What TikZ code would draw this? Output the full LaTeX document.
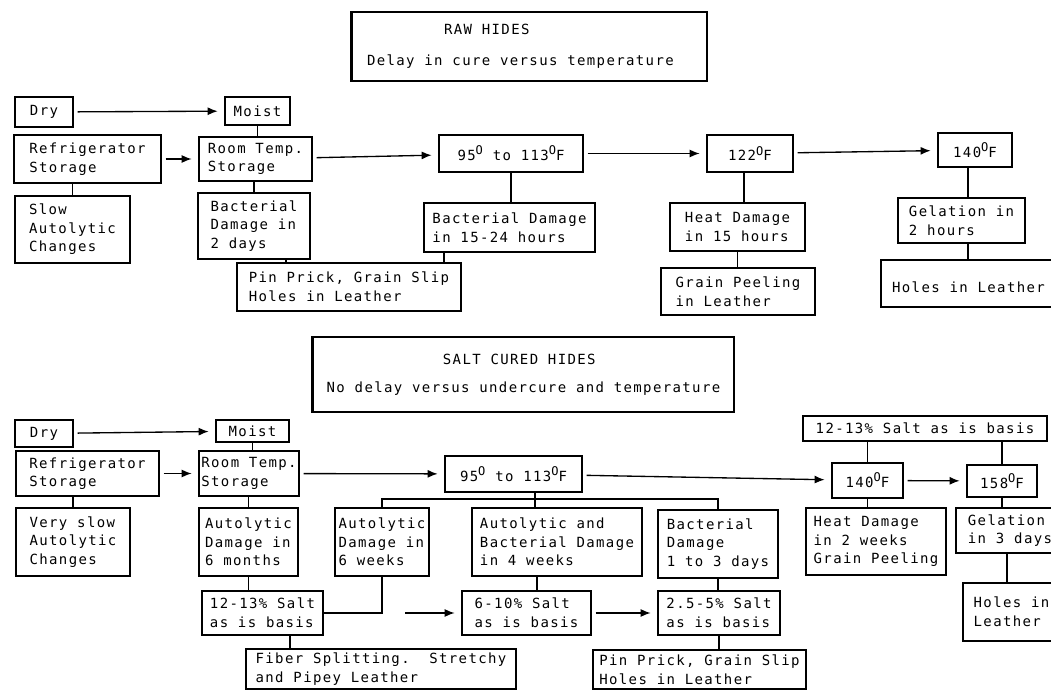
\documentclass[tikz,border=0pt]{standalone}
\usepackage{fontspec}
\usepackage{tikz}
\usetikzlibrary{arrows.meta}

\newfontfamily\gothic{DejaVu Sans Mono}[LetterSpace=9.8]
\newcommand{\degO}{\raisebox{0.75ex}{\fontsize{9}{9}\selectfont O}}

\tikzset{
  box/.style 2 args={draw, line width=1pt, inner sep=0pt, align=left,
    minimum width=#1, minimum height=#2,
    font=\gothic\fontsize{10.5}{13.9}\selectfont},
  link/.style={line width=1pt},
  arr/.style={line width=1pt, -{Latex[length=7.5pt,width=6pt]}, shorten <=3pt, shorten >=5pt}
}

\begin{document}
\begin{tikzpicture}[x=0.75pt,y=0.75pt,yscale=-1,xscale=1]
        \useasboundingbox (0,0) rectangle (1051,692);
        \clip (0,0) rectangle (1051,692);

        %Raw hides
        \node[box={266.25pt}{51.75pt}] (titleA) at (529.5,46.5) {\phantom{XXXXXXXX}RAW HIDES\\[9pt]Delay in cure versus temperature\phantom{XX}};
        \draw[line width=2pt] (titleA.north west) -- (titleA.south west);

        % Text Node
        \node[box={43.5pt}{22.5pt}] (dryA) at (44,112) {Dry};
        \node[box={48.75pt}{21pt}] (moistA) at (257.5,111) {Moist};
        \node[box={110.25pt}{36pt}] (fridgeA) at (87.5,159) {Refrigerator\\Storage};
        \node[box={84.75pt}{33pt}] (roomA) at (255.5,159) {Room Temp.\\Storage};
        \node[box={108pt}{27.75pt}] (tA) at (511,153.5) {95\degO{} to 113\degO F};
        \node[box={64.5pt}{27.75pt}] (tB) at (750,153.5) {122\degO F};
        \node[box={55.5pt}{25.5pt}] (tC) at (975,150) {140\degO F};
        \node[box={86.25pt}{50.25pt}] (slowA) at (72.5,229.5) {Slow\\Autolytic\\Changes};
        \node[box={84pt}{49.5pt}] (bacA) at (254,226) {Bacterial\\Damage in\\2 days};
        \node[box={128.25pt}{36.75pt}] (bacB) at (509.5,227.5) {Bacterial Damage\\in 15-24 hours};
        \node[box={101.25pt}{36pt}] (heatA) at (737.5,227) {Heat Damage\\in 15 hours};
        \node[box={95.25pt}{33.75pt}] (gelA) at (961.5,220.5) {Gelation in\\2 hours};
        \node[box={168pt}{36pt}] (pinA) at (349,287) {Pin Prick, Grain Slip\\Holes in Leather};
        \node[box={115.5pt}{35.25pt}] (peelA) at (738,291.5) {Grain Peeling\\in Leather};
        \node[box={131.25pt}{35.25pt}] (holesA) at (968.5,283.5) {~\\Holes in Leather};

        \draw[arr] (dryA) -- (moistA);
        \draw[arr] (fridgeA) -- (roomA);
        \draw[arr] (roomA) -- (tA);
        \draw[arr] (tA) -- (tB);
        \draw[arr] (tB) -- (tC);
        \draw[link] (moistA.south) -- (moistA.south |- roomA.north);
        \draw[link] (slowA.north |- fridgeA.south) -- (slowA.north);
        \draw[link] (bacA.north |- roomA.south) -- (bacA.north);
        \draw[link] (tA.south) -- (tA.south |- bacB.north);
        \draw[link] ([xshift=24pt]bacA.south) -- ([xshift=24pt]bacA.south |- pinA.north);
        \draw[link] ([xshift=-49.1pt]bacB.south) -- ([xshift=-49.1pt]bacB.south |- pinA.north);
        \draw[link] ([xshift=-4.5pt]tB.south) -- ([xshift=-4.5pt]tB.south |- heatA.north);
        \draw[link] (heatA.south) -- (heatA.south |- peelA.north);
        \draw[link] ([xshift=-5.25pt]tC.south) -- ([xshift=-5.25pt]tC.south |- gelA.north);
        \draw[link] ([xshift=4.9pt]gelA.south) -- ([xshift=4.9pt]gelA.south |- holesA.north);

        %Salt cured hides
        \node[box={315.75pt}{56.25pt}] (titleB) at (523.5,374.5) {\phantom{XXXXXXXXXXXX}SALT CURED HIDES\\[7pt]No delay versus undercure and temperature};
        \draw[line width=2pt] (titleB.north west) -- (titleB.south west);

        % Text Node
        \node[box={43.5pt}{20.25pt}] (dryB) at (44,433.5) {Dry};
        \node[box={54.75pt}{16.5pt}] (moistB) at (252.5,431) {Moist};
        \node[box={107.25pt}{33.75pt}] (fridgeB) at (87.5,473.5) {Refrigerator\\Storage};
        \node[box={75pt}{33.75pt}] (roomB) at (249,473.5) {Room Temp.\\Storage};
        \node[box={102.75pt}{27pt}] (sA) at (513.5,474) {95\degO{} to 113\degO F};
        \node[box={53.25pt}{26.25pt}] (sB) at (867.5,480.5) {140\degO F};
        \node[box={52.5pt}{24pt}] (sC) at (1002,481) {158\degO F};
        \node[box={183pt}{18.75pt}] (saltD) at (925,428.5) {12-13\% Salt as is basis};
        \node[box={85.5pt}{51pt}] (vslowB) at (73,542) {Very slow\\Autolytic\\Changes};
        \node[box={74.25pt}{51pt}] (autoA) at (248.5,542) {Autolytic\\Damage in\\6 months};
        \node[box={70.5pt}{51pt}] (autoB) at (382,542) {Autolytic\\Damage in\\6 weeks};
        \node[box={127.5pt}{51pt}] (autoC) at (557,542) {Autolytic and\\Bacterial Damage\\in 4 weeks};
        \node[box={90pt}{51pt}] (bacC) at (718,544) {Bacterial\\Damage\\1 to 3 days};
        \node[box={105pt}{50.25pt}] (heatB) at (876,541.5) {Heat Damage\\in 2 weeks\\Grain Peeling};
        \node[box={81pt}{33.75pt}] (gelB) at (1010,530.5) {Gelation\\in 3 days};
        \node[box={72.75pt}{43.5pt}] (holesB) at (1011.5,612) {Holes in\\Leather};
        \node[box={90.75pt}{33pt}] (saltA) at (262.5,613) {12-13\% Salt\\as is basis};
        \node[box={96.75pt}{33pt}] (saltB) at (526.5,613) {6-10\% Salt\\as is basis};
        \node[box={91.5pt}{33pt}] (saltC) at (719,613) {2.5-5\% Salt\\as is basis};
        \node[box={202.5pt}{30pt}] (fiber) at (381,669) {Fiber Splitting.~~Stretchy\\and Pipey Leather};
        \node[box={159.75pt}{29.25pt}] (pinB) at (699.5,669.5) {Pin Prick, Grain Slip\\Holes in Leather};

        \coordinate (bus) at (535,499);
        \coordinate (gap) at (401,613);

        \draw[arr] (dryB) -- (moistB);
        \draw[arr] (fridgeB) -- (roomB);
        \draw[arr] (roomB) -- (sA);
        \draw[arr] (sA) -- (sB);
        \draw[arr] (sB) -- (sC);
        \draw[arr] (gap) -- (saltB);
        \draw[arr] (saltB) -- (saltC);
        \draw[link] (moistB.south) -- (moistB.south |- roomB.north);
        \draw[link] (vslowB.north |- fridgeB.south) -- (vslowB.north);
        \draw[link] (autoA.north |- roomB.south) -- (autoA.north);
        \draw[link] (autoB.north) |- (bus) -| (bacC.north);
        \draw[link] ([xshift=16.1pt]sA.south) -- ([xshift=16.1pt]sA.south |- autoC.north);
        \draw[link] (autoA.south) -- (autoA.south |- saltA.north);
        \draw[link] (autoB.south) |- (saltA.east);
        \draw[link] ([xshift=-15pt]autoC.south) -- ([xshift=-15pt]autoC.south |- saltB.north);
        \draw[link] (bacC.south) -- (bacC.south |- saltC.north);
        \draw[link] (saltC.south) -- (saltC.south |- pinB.north);
        \draw[link] ([xshift=20.6pt]saltA.south) -- ([xshift=20.6pt]saltA.south |- fiber.north);
        \draw[link] (sB.north |- saltD.south) -- (sB.north);
        \draw[link] (sC.north |- saltD.south) -- (sC.north);
        \draw[link] (sB.south) -- (sB.south |- heatB.north);
        \draw[link] (sC.south) -- (sC.south |- gelB.north);
        \draw[link] ([xshift=-2.25pt]gelB.south) -- ([xshift=-2.25pt]gelB.south |- holesB.north);

\end{tikzpicture}
\end{document}
